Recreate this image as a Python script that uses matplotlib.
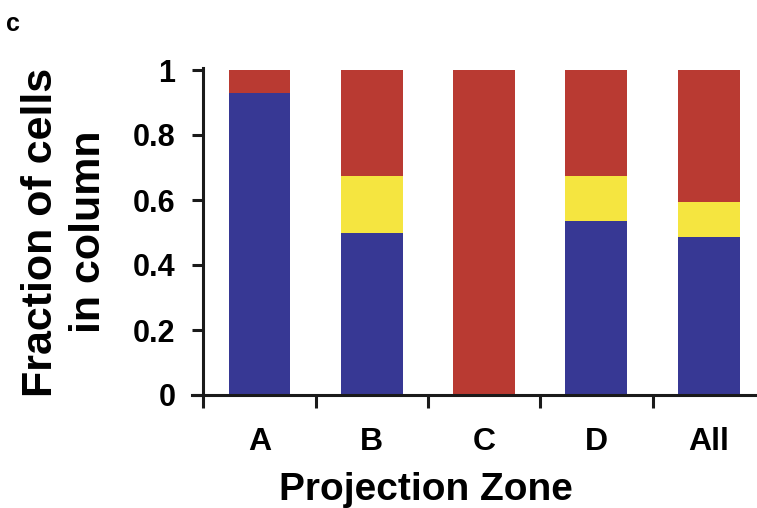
import numpy as np
import matplotlib
matplotlib.use('Agg')
import matplotlib.pyplot as plt

# fraction of cells in each projection zone
zones  = ['A', 'B', 'C', 'D', 'All']
blue   = [0.93, 0.50, 0.00, 0.535, 0.485]
yellow = [0.00, 0.175, 0.00, 0.14, 0.11]
red    = [0.07, 0.325, 1.00, 0.325, 0.405]

plt.rcParams['font.family'] = ['Liberation Sans', 'DejaVu Sans']
plt.rcParams['font.weight'] = 'bold'

fig = plt.figure(figsize=(7.57, 5.08), dpi=100)
ax = fig.add_axes([192/757, (508-395)/508, (757-192)/757, (395-70)/508])

x = np.arange(len(zones))
w = 0.55
blue = np.array(blue); yellow = np.array(yellow); red = np.array(red)
ax.bar(x, blue, w, color='#373894')
ax.bar(x, yellow, w, bottom=blue, color='#f5e540')
ax.bar(x, red, w, bottom=blue+yellow, color='#b93a32')

ax.set_xlim(-0.6, 4.43)
ax.set_ylim(0, 1)
ax.spines['top'].set_visible(False)
ax.spines['right'].set_visible(False)
ax.spines['left'].set_position(('data', -0.5))
for s in ('left', 'bottom'):
    ax.spines[s].set_linewidth(2.2)
    ax.spines[s].set_color('#1a1a1a')
ax.spines['left'].set_bounds(0, 1.005)

ax.set_yticks([0, 0.2, 0.4, 0.6, 0.8, 1.0])
ax.set_yticklabels(['0', '0.2', '0.4', '0.6', '0.8', '1'])
ax.tick_params(axis='y', length=8, width=2.2, labelsize=22, pad=12, color='#1a1a1a')

ax.set_xticks(x)
ax.set_xticklabels(zones)
ax.set_xticks(np.arange(-0.5, 4.0, 1.0), minor=True)
ax.tick_params(axis='x', which='major', length=0, labelsize=23, pad=23)
ax.tick_params(axis='x', which='minor', length=9, width=2.2, color='#1a1a1a')

# axis titles placed by hand (x title sits left of the axes centre)
fig.text(426/757, 1 - 500/508, 'Projection Zone', ha='center', va='baseline',
         fontsize=28, fontweight='bold')
fig.text(65/757, 1 - 232/508, 'Fraction of cells\nin column', rotation=90,
         ha='center', va='center', fontsize=31, fontweight='bold',
         linespacing=1.28, multialignment='center')

fig.text(6/757, 1 - 31/508, 'c', fontsize=18, fontweight='bold', va='baseline')

fig.savefig('out.png', dpi=100)
